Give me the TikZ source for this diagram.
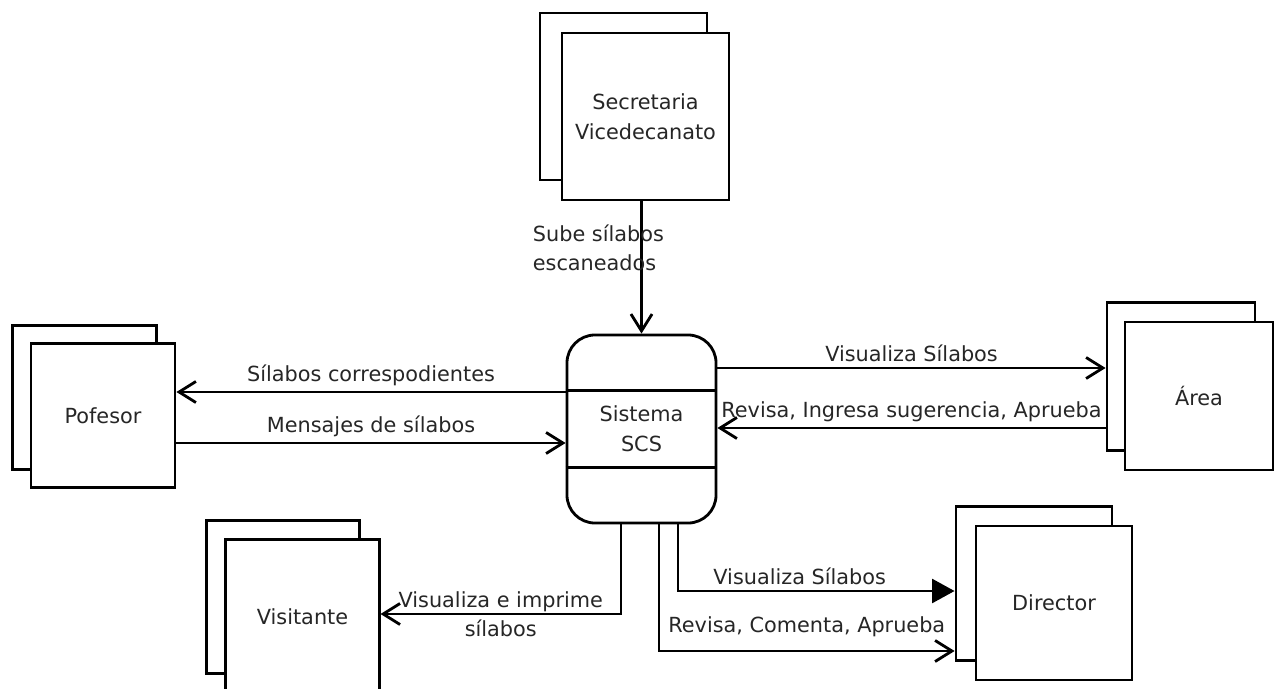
\documentclass[tikz,border=0pt]{standalone}
\usepackage{fontspec}
\setmainfont{DejaVu Sans}
\usetikzlibrary{arrows.meta, calc}

\begin{document}
\begin{tikzpicture}[
    x=0.025cm, y=-0.025cm,
    every node/.style={font=\fontsize{14.8}{21}\selectfont, text=black!85},
    entity/.style={draw, fill=white, line width=2pt, inner sep=0pt, align=center},
    proc/.style={draw, fill=white, line width=2pt, rounded corners=0.7cm,
        minimum width=3.725cm, minimum height=4.7cm, align=center},
    flow/.style={line width=2pt, -{Straight Barb[length=12pt,width=15pt]}},
    flowfill/.style={line width=2pt, -{Triangle[length=16pt,width=17pt]}}
]
    \useasboundingbox (0,0) rectangle (1280,689);

    % external entities (back copy, then front copy)
    \node[entity, minimum size=4.175cm] (secb) at (623.5,96.5) {};
    \node[entity, minimum size=4.175cm] (sec) at (645.5,116.5) {Secretaria\\Vicedecanato};

    \node[entity, minimum size=3.6cm] (prob) at (84.5,397.5) {};
    \node[entity, minimum size=3.6cm] (pro) at (103,415.5) {Pofesor};

    \node[entity, minimum size=3.7cm] (areab) at (1181,376.5) {};
    \node[entity, minimum size=3.7cm] (area) at (1199,396) {Área};

    \node[entity, minimum width=3.9cm, minimum height=3.85cm] (dirb) at (1034,583.5) {};
    \node[entity, minimum width=3.9cm, minimum height=3.85cm] (dir) at (1054,603) {Director};

    \node[entity, minimum size=3.83cm] (visb) at (283,597) {};
    \node[entity, minimum size=3.83cm] (vis) at (302.5,616.5) {Visitante};

    % process
    \node[proc] (sys) at (641.5,429) {Sistema\\SCS};
    \draw[line width=2pt] ($(sys.north west)!.3!(sys.south west)$) -- ($(sys.north east)!.3!(sys.south east)$);
    \draw[line width=2pt] ($(sys.north west)!.7!(sys.south west)$) -- ($(sys.north east)!.7!(sys.south east)$);

    % data flows
    \coordinate (p1) at (0,392);
    \coordinate (p2) at (0,443);
    \coordinate (a1) at (0,368);
    \coordinate (a2) at (0,428);
    \coordinate (t1) at (621,614);
    \coordinate (d1) at (678,591);
    \coordinate (d2) at (659,651);

    \draw[flow] (sec.south -| sys.north) -- node[pos=.35, anchor=west, align=left, inner sep=0pt, xshift=-2.75cm] {Sube sílabos\\escaneados} (sys.north);

    \draw[flow] (sys.west |- p1) -- node[above] {Sílabos correspodientes} (pro.east |- p1);
    \draw[flow] (pro.east |- p2) -- node[above] {Mensajes de sílabos} (sys.west |- p2);

    \draw[flow] (sys.east |- a1) -- node[above] {Visualiza Sílabos} (areab.west |- a1);
    \draw[flow] (areab.west |- a2) -- node[above] {Revisa, Ingresa sugerencia, Aprueba} (sys.east |- a2);

    \draw[flow] (sys.south -| t1) |- node[pos=.75, align=center] {Visualiza e imprime\\sílabos} (vis.east |- t1);
    \draw[flowfill] (sys.south -| d1) |- node[pos=.72, above] {Visualiza Sílabos} (dirb.west |- d1);
    \draw[flow] (sys.south -| d2) |- node[pos=.75, above=6pt] {Revisa, Comenta, Aprueba} (dirb.west |- d2);
\end{tikzpicture}
\end{document}
